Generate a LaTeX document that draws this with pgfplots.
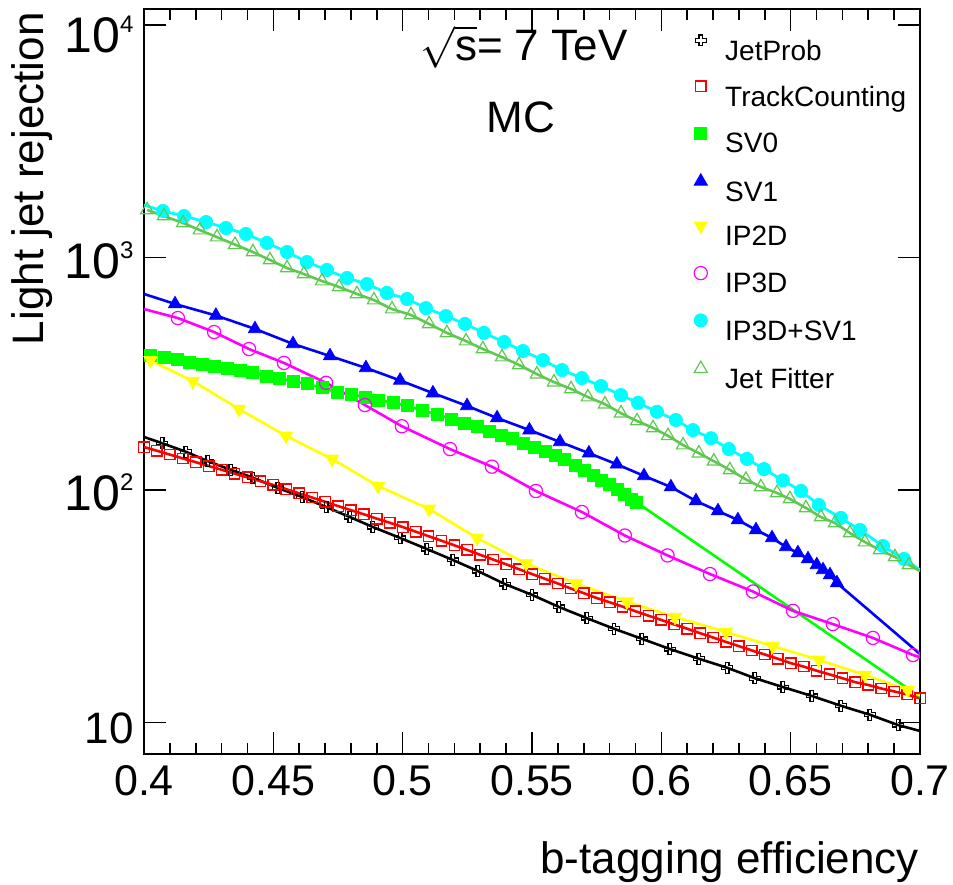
\documentclass[border=0pt]{standalone}
\usepackage{fontspec}
\setmainfont{Liberation Sans}
\usepackage{pgfplots}
\pgfplotsset{compat=1.18}
\usepackage{pgfplotstable}

\definecolor{jfgreen}{RGB}{95,200,80}
\definecolor{rcyan}{RGB}{0,255,255}
\definecolor{rmagenta}{RGB}{255,0,255}
\definecolor{ryellow}{RGB}{255,255,0}
\definecolor{rgreen}{RGB}{0,255,0}
\definecolor{rblue}{RGB}{0,0,255}
\definecolor{rred}{RGB}{255,0,0}

\pgfdeclareplotmark{opencross}{%
  \pgfpathmoveto{\pgfqpoint{-0.35\pgfplotmarksize}{\pgfplotmarksize}}%
  \pgfpathlineto{\pgfqpoint{0.35\pgfplotmarksize}{\pgfplotmarksize}}%
  \pgfpathlineto{\pgfqpoint{0.35\pgfplotmarksize}{0.35\pgfplotmarksize}}%
  \pgfpathlineto{\pgfqpoint{\pgfplotmarksize}{0.35\pgfplotmarksize}}%
  \pgfpathlineto{\pgfqpoint{\pgfplotmarksize}{-0.35\pgfplotmarksize}}%
  \pgfpathlineto{\pgfqpoint{0.35\pgfplotmarksize}{-0.35\pgfplotmarksize}}%
  \pgfpathlineto{\pgfqpoint{0.35\pgfplotmarksize}{-\pgfplotmarksize}}%
  \pgfpathlineto{\pgfqpoint{-0.35\pgfplotmarksize}{-\pgfplotmarksize}}%
  \pgfpathlineto{\pgfqpoint{-0.35\pgfplotmarksize}{-0.35\pgfplotmarksize}}%
  \pgfpathlineto{\pgfqpoint{-\pgfplotmarksize}{-0.35\pgfplotmarksize}}%
  \pgfpathlineto{\pgfqpoint{-\pgfplotmarksize}{0.35\pgfplotmarksize}}%
  \pgfpathlineto{\pgfqpoint{-0.35\pgfplotmarksize}{0.35\pgfplotmarksize}}%
  \pgfpathclose
  \pgfusepathqstroke
}

\newcommand{\tenpow}[1]{{\fontsize{25}{25}\selectfont 10\raisebox{10pt}{\fontsize{12}{12}\selectfont #1}}}

% JetProb
\pgfplotstableread{
x y
0.4070 159
0.4162 146
0.4247 133
0.4336 122
0.4421 113
0.4518 102
0.4611 93.3
0.4704 84.5
0.4796 76.5
0.4885 69.3
0.4990 62.2
0.5094 55.7
0.5194 50.0
0.5291 44.8
0.5395 39.4
0.5500 35.4
0.5604 31.4
0.5712 28.1
0.5817 25.3
0.5925 22.9
0.6033 20.7
0.6145 18.8
0.6254 17.2
0.6362 15.5
0.6470 14.2
0.6582 13.0
0.6694 11.8
0.6806 10.8
0.6915 9.75
}\tJP

% TrackCounting
\pgfplotstableread{
x y
0.400 153.0
0.405 147.5
0.410 142.0
0.415 136.7
0.420 131.7
0.425 126.8
0.430 122.2
0.435 117.6
0.440 113.3
0.445 109.1
0.450 105.1
0.455 100.8
0.460 96.7
0.465 92.8
0.470 89.0
0.475 85.3
0.480 81.9
0.485 78.6
0.490 75.3
0.495 72.3
0.500 69.3
0.505 66.2
0.510 63.3
0.515 60.5
0.520 57.8
0.525 55.2
0.530 52.6
0.535 50.2
0.540 47.9
0.545 45.6
0.550 43.5
0.555 41.5
0.560 39.6
0.565 37.7
0.570 36.0
0.575 34.3
0.580 32.9
0.585 31.5
0.590 30.1
0.595 28.8
0.600 27.6
0.605 26.4
0.610 25.3
0.615 24.2
0.620 23.2
0.625 22.2
0.630 21.3
0.635 20.4
0.640 19.6
0.645 18.8
0.650 18.0
0.655 17.4
0.660 16.7
0.665 16.1
0.670 15.5
0.675 14.9
0.680 14.5
0.685 14.0
0.690 13.6
0.695 13.2
0.700 12.7
}\tTC

% SV0
\pgfplotstableread{
x y
0.4023 381
0.4077 373
0.4128 366
0.4174 355
0.4224 348
0.4271 341
0.4321 335
0.4371 328
0.4421 319
0.4472 309
0.4522 303
0.4576 294
0.4630 286
0.4688 275
0.4746 264
0.4800 259
0.4854 251
0.4908 244
0.4964 237
0.5020 231
0.5078 219
0.5133 212
0.5187 202
0.5237 194
0.5287 187
0.5334 179
0.5380 172
0.5426 166
0.5465 159
0.5508 153
0.5550 146
0.5589 141
0.5627 135
0.5666 128
0.5701 122
0.5736 116
0.5770 110
0.5801 106
0.5832 101
0.5859 96.1
0.5886 91.5
0.5902 88.8
}\tSVO

% SV1
\pgfplotstableread{
x y
0.4120 631
0.4278 563
0.4429 493
0.4576 425
0.4719 377
0.4858 335
0.4990 296
0.5117 261
0.5249 230
0.5365 204
0.5490 181
0.5608 161
0.5720 144
0.5828 129
0.5933 115
0.6037 103
0.6134 89.7
0.6219 81.2
0.6296 74.3
0.6366 67.3
0.6428 62.2
0.6482 56.9
0.6528 53.6
0.6567 50.5
0.6601 47.6
0.6625 45.3
0.6652 43.1
0.6679 39.8
}\tSVI

% IP2D
\pgfplotstableread{
x y
0.4025 361
0.4189 294
0.4367 223
0.4549 171
0.4727 136
0.4905 104
0.5102 82.9
0.5287 62.2
0.5477 48.3
0.5670 39.6
0.5867 33.1
0.6053 28.4
0.6250 24.5
0.6431 21.3
0.6609 18.6
0.6787 16.0
0.6953 13.8
}\tIPtwo

% IP3D
\pgfplotstableread{
x y
0.4131 549
0.4271 478
0.4406 404
0.4541 352
0.4704 289
0.4854 232
0.4997 188
0.5183 150
0.5345 126
0.5515 99
0.5693 80.4
0.5859 63.7
0.6024 52.3
0.6188 43.5
0.6354 36.6
0.6509 30.2
0.6663 26.5
0.6818 23.1
0.6973 19.5
}\tIPthree

% IP3D+SV1
\pgfplotstableread{
x y
0.4073 1585
0.4155 1508
0.4240 1421
0.4317 1339
0.4394 1262
0.4475 1155
0.4553 1056
0.4630 956
0.4707 884
0.4785 816
0.4862 769
0.4939 704
0.5017 663
0.5090 606
0.5167 560
0.5241 518
0.5314 474
0.5392 433
0.5465 396
0.5542 362
0.5616 328
0.5693 303
0.5767 280
0.5844 256
0.5910 237
0.5983 217
0.6056 200
0.6122 181
0.6192 167
0.6261 150
0.6331 136
0.6397 123
0.6470 110
0.6540 99
0.6609 86.2
0.6694 75.8
0.6768 67.3
0.6857 57.4
0.6938 50.5
}\tCOMB

% Jet Fitter
\pgfplotstableread{
x y
0.4012 1601
0.4077 1508
0.4151 1407
0.4216 1312
0.4282 1224
0.4352 1136
0.4421 1056
0.4487 976
0.4553 901
0.4618 849
0.4688 792
0.4754 747
0.4823 697
0.4889 656
0.4959 600
0.5032 566
0.5102 518
0.5171 474
0.5245 437
0.5310 404
0.5384 373
0.5450 345
0.5519 315
0.5585 291
0.5651 272
0.5716 251
0.5782 234
0.5844 214
0.5906 198
0.5968 185
0.6026 171
0.6084 156
0.6145 144
0.6203 133
0.6265 122
0.6327 111
0.6385 103
0.6447 97.1
0.6497 91.5
0.6559 83.7
0.6617 76.5
0.6671 72.1
0.6729 65.3
0.6787 59.7
0.6845 55.2
0.6903 51.5
0.6957 47.6
}\tJF

\begin{document}
\begin{tikzpicture}
\begin{axis}[
  at={(0,0)}, anchor=south west,
  scale only axis, width=388pt, height=372.35pt,
  ymode=log, log basis y=10,
  xmin=0.4, xmax=0.7, ymin=7.34, ymax=11720,
  enlargelimits=false,
  axis line style={line width=1pt},
  tick align=inside,
  xtick pos=both, ytick pos=both,
  major tick length=11pt, minor tick length=5.3pt,
  every tick/.style={black, line width=0.8pt},
  xtick={0.4,0.45,0.5,0.55,0.6,0.65,0.7},
  xticklabels={0.4,0.45,0.5,0.55,0.6,0.65,0.7},
  minor x tick num=4,
  ytick={10,100,1000,10000},
  yticklabels={{\fontsize{22}{22}\selectfont 10},\tenpow{2},\tenpow{3},{\raisebox{-3.5pt}{\tenpow{4}}}},
  xticklabel style={font=\fontsize{21.5}{24}\selectfont, inner sep=0pt},
  xticklabel shift=5.7pt,
  yticklabel style={inner sep=0pt, anchor=base east, yshift=-10.3pt},
  yticklabel shift=5pt,
  xlabel={b-tagging efficiency},
  ylabel={Light jet rejection},
  label style={font=\fontsize{22}{26}\selectfont},
  xlabel style={at={(axis description cs:0.999,-0.118)}, anchor=north east, inner sep=0pt},
  ylabel style={at={(axis description cs:-0.1443,0.996)}, anchor=east, inner sep=0pt},
  legend style={at={(rel axis cs:0.7036,0.9656)}, anchor=north west, draw=none, fill=none,
    inner sep=0pt, font=\fontsize{14}{16}\selectfont, row sep=9pt, column sep=7pt,
    nodes={inner sep=0pt}},
  legend cell align=left,
  legend image code/.code={\path (0pt,0pt) (10pt,0pt);\draw[mark repeat=2,mark phase=2,#1] plot coordinates {(0pt,5pt)(5pt,5pt)(10pt,5pt)};},
]
% JetProb
\addplot[black, line width=1.3pt, forget plot] table {\tJP};
\addplot[black, line width=1.3pt, forget plot] coordinates {(0.4,169) (0.4070,159)};
\addplot[black, line width=1.3pt, forget plot] coordinates {(0.6915,9.75) (0.7,9.19)};
\addplot[only marks, mark=opencross, mark size=2.7pt, mark options={black, line width=0.6pt}] table {\tJP};
\addlegendentry{\strut JetProb}
% TrackCounting
\addplot[rred, line width=1.3pt, forget plot] table {\tTC};
\addplot[only marks, color=rred, mark=square, mark size=2.6pt, mark options={draw=rred, line width=0.7pt}] table {\tTC};
\addlegendentry{\strut TrackCounting}
% SV0
\addplot[rgreen, line width=1.3pt, forget plot] table {\tSVO};
\addplot[rgreen, line width=1.3pt, forget plot] coordinates {(0.5902,88.8) (0.7,12.9)};
\addplot[only marks, mark=square*, mark size=3pt, mark options={rgreen, fill=rgreen}] table {\tSVO};
\addlegendentry{\strut SV0}
% SV1
\addplot[rblue, line width=1.3pt, forget plot] table {\tSVI};
\addplot[rblue, line width=1.3pt, forget plot] coordinates {(0.4,697) (0.4120,631)};
\addplot[rblue, line width=1.3pt, forget plot] coordinates {(0.6679,39.8) (0.7,19.7)};
\addplot[only marks, mark=triangle*, mark size=3.8pt, mark options={rblue, fill=rblue}] table {\tSVI};
\addlegendentry{\strut SV1}
% IP2D
\addplot[ryellow, line width=1.3pt, forget plot] table {\tIPtwo};
\addplot[ryellow, line width=1.3pt, forget plot] coordinates {(0.4,366) (0.4025,361)};
\addplot[ryellow, line width=1.3pt, forget plot] coordinates {(0.6953,13.8) (0.7,13.1)};
\addplot[only marks, mark=triangle*, mark size=3.8pt, mark options={ryellow, fill=ryellow, rotate=180}] table {\tIPtwo};
\addlegendentry{\strut IP2D}
% IP3D
\addplot[rmagenta, line width=1.3pt, forget plot] table {\tIPthree};
\addplot[rmagenta, line width=1.3pt, forget plot] coordinates {(0.4,600) (0.4131,549)};
\addplot[rmagenta, line width=1.3pt, forget plot] coordinates {(0.6973,19.5) (0.7,19.1)};
\addplot[only marks, mark=o, mark size=3.3pt, mark options={rmagenta, line width=0.6pt}] table {\tIPthree};
\addlegendentry{\strut IP3D}
% IP3D+SV1
\addplot[rcyan, line width=1.4pt, forget plot] table {\tCOMB};
\addplot[rcyan, line width=1.4pt, forget plot] coordinates {(0.4,1682) (0.4073,1585)};
\addplot[rcyan, line width=1.4pt, forget plot] coordinates {(0.6938,50.5) (0.7,45.3)};
\addplot[only marks, mark=*, mark size=3.3pt, mark options={rcyan, fill=rcyan}] table {\tCOMB};
\addlegendentry{\strut IP3D+SV1}
% Jet Fitter
\addplot[jfgreen, line width=1.3pt, forget plot] table {\tJF};
\addplot[jfgreen, line width=1.3pt, forget plot] coordinates {(0.6957,47.6) (0.7,44.8)};
\addplot[only marks, mark=triangle, mark size=3.8pt, mark options={jfgreen, line width=0.6pt}] table {\tJF};
\addlegendentry{\strut Jet Fitter}

\node[font=\fontsize{22}{26}\selectfont, inner sep=0pt] at (rel axis cs:0.4897,0.9490) {$\sqrt{\mbox{s}}$= 7 TeV};
\node[font=\fontsize{22}{26}\selectfont] at (rel axis cs:0.4858,0.855) {MC};
\end{axis}
\pgfresetboundingbox
\path (-72pt,-65.15pt) rectangle (404.5pt,376.85pt);
\end{tikzpicture}
\end{document}
